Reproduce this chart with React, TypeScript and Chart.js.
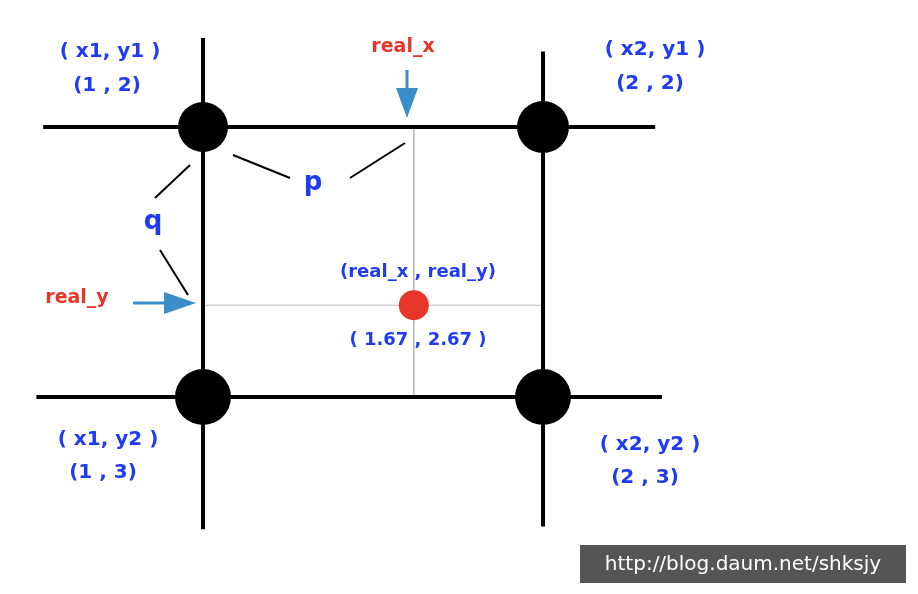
import { useEffect, useRef } from "react"
import { Chart, registerables } from "chart.js"

Chart.register(...registerables)

// grid corners of the bilinear cell
const gridX = [1, 2]
const gridY = [2, 3]
// interpolated point (position as drawn in the picture)
const realPoint = { x: 1.62, y: 2.66 }
const realLabel = "( 1.67 , 2.67 )"
// how far the thick grid lines run past the cell
const hLineX = [[0.53, 2.33], [0.51, 2.35]]
const vLineY = [[1.67, 3.49], [1.72, 3.48]]

const BLUE = "#1f3cf2"
const RED = "#e8352a"
const ARROW = "#3a8ec9"

const overlay = {
  id: "overlay",
  afterDatasetsDraw(chart: Chart) {
    const ctx = chart.ctx
    const text = (s: string, x: number, y: number, color: string, size = 20) => {
      ctx.fillStyle = color
      ctx.font = `bold ${size}px "DejaVu Sans", Verdana, sans-serif`
      ctx.textAlign = "center"
      ctx.textBaseline = "middle"
      ctx.fillText(s, x, y)
    }
    const line = (x1: number, y1: number, x2: number, y2: number, w = 2, c = "#000") => {
      ctx.strokeStyle = c
      ctx.lineWidth = w
      ctx.beginPath()
      ctx.moveTo(x1, y1)
      ctx.lineTo(x2, y2)
      ctx.stroke()
    }
    ctx.save()
    // callouts for p and q
    line(233, 155, 290, 178)
    line(350, 178, 405, 143)
    line(190, 165, 155, 198)
    line(160, 250, 188, 295)
    // arrows
    line(407, 70, 407, 92, 3, ARROW)
    ctx.fillStyle = ARROW
    ctx.beginPath()
    ctx.moveTo(396, 88); ctx.lineTo(418, 88); ctx.lineTo(407, 118); ctx.closePath(); ctx.fill()
    line(133, 303, 168, 303, 3, ARROW)
    ctx.beginPath()
    ctx.moveTo(164, 292); ctx.lineTo(164, 314); ctx.lineTo(196, 303); ctx.closePath(); ctx.fill()
    // labels
    text("( x1, y1 )", 110, 52, BLUE)
    text("(1 , 2)", 107, 86, BLUE)
    text("( x2, y1 )", 655, 50, BLUE)
    text("(2 , 2)", 650, 84, BLUE)
    text("real_x", 403, 47, RED, 19)
    text("p", 313, 183, BLUE, 26)
    text("q", 153, 222, BLUE, 26)
    text("(real_x , real_y)", 418, 272, BLUE, 18)
    text("real_y", 77, 298, RED, 19)
    text(realLabel, 418, 340, BLUE, 18)
    text("( x1, y2 )", 108, 440, BLUE)
    text("(1 , 3)", 103, 473, BLUE)
    text("( x2, y2 )", 650, 445, BLUE)
    text("(2 , 3)", 645, 478, BLUE)
    // watermark
    ctx.fillStyle = "#555"
    ctx.fillRect(580, 545, 326, 38)
    ctx.fillStyle = "#fff"
    ctx.font = '20px "DejaVu Sans", sans-serif'
    ctx.textAlign = "center"
    ctx.fillText("http://blog.daum.net/shksjy", 743, 565)
    ctx.restore()
  },
}

export default function App() {
  const ref = useRef<HTMLCanvasElement>(null)
  useEffect(() => {
    document.body.style.margin = "0"
    if (!ref.current) return
    const corners = gridY.flatMap((y) => gridX.map((x) => ({ x, y })))
    const lineSet = (data: { x: number; y: number }[], w: number, c: string) => ({
      data, showLine: true, borderColor: c, borderWidth: w, pointRadius: 0, order: 3,
    })
    const chart = new Chart(ref.current, {
      type: "scatter",
      data: {
        datasets: [
          ...gridY.map((y, i) => lineSet(hLineX[i].map((x) => ({ x, y })), 4, "#000")),
          ...gridX.map((x, i) => lineSet(vLineY[i].map((y) => ({ x, y })), 4, "#000")),
          lineSet(gridY.map((y) => ({ x: realPoint.x, y })), 1, "#bbb"),
          lineSet(gridX.map((x) => ({ x, y: realPoint.y })), 1, "#bbb"),
          { data: corners, pointRadius: [25, 26, 28, 28], backgroundColor: "#000", borderWidth: 0, order: 1 },
          { data: [realPoint], pointRadius: 15, backgroundColor: RED, borderWidth: 0, order: 0 },
        ] as any,
      },
      options: {
        animation: false,
        responsive: false,
        layout: { padding: 0, autoPadding: false },
        clip: false as any,
        plugins: { legend: { display: false }, tooltip: { enabled: false } },
        scales: {
          x: { type: "linear", min: 1 - 203 / 340, max: 1 + 715 / 340, display: false },
          y: { type: "linear", reverse: true, min: 2 - 127 / 270, max: 2 + 467 / 270, display: false },
        },
      },
      plugins: [overlay],
    })
    return () => chart.destroy()
  }, [])
  return <canvas ref={ref} width={918} height={594} style={{ display: "block", background: "#fff" }} />
}
